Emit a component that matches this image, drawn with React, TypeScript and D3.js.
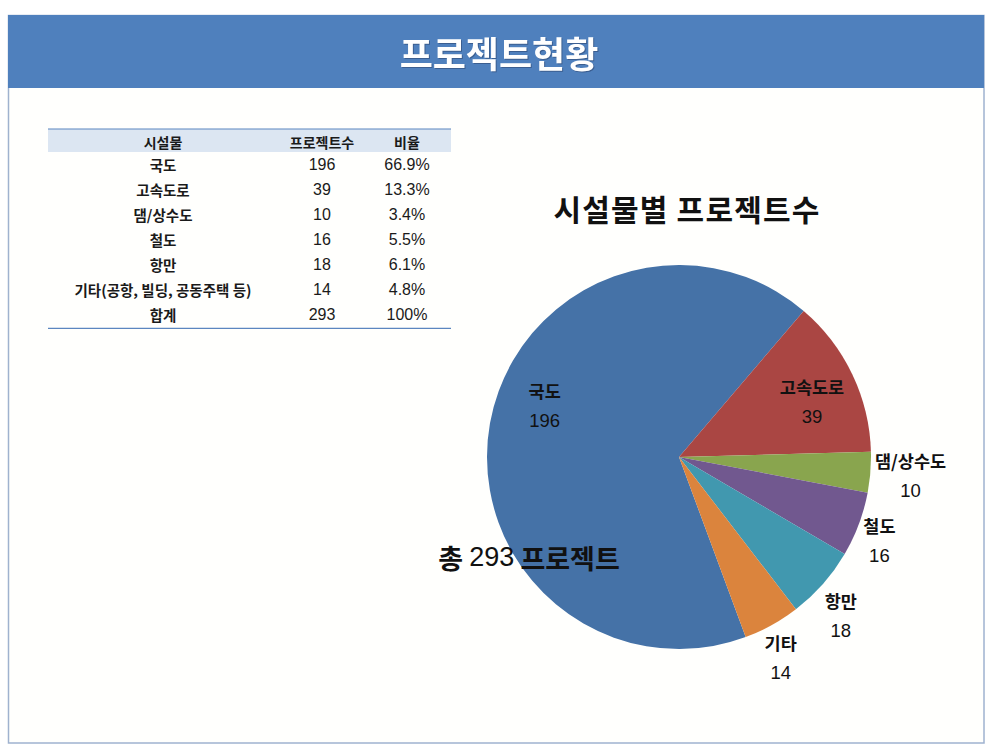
import React from "react";
import * as d3 from "d3";

const categories = ["국도", "고속도로", "댐/상수도", "철도", "항만", "기타"];
const tableNames = ["국도", "고속도로", "댐/상수도", "철도", "항만", "기타(공항, 빌딩, 공동주택 등)"];
const projectCounts = [196, 39, 10, 16, 18, 14];
const ratioLabels = ["66.9%", "13.3%", "3.4%", "5.5%", "6.1%", "4.8%"];
const totalCount = 293;
const totalRatio = "100%";
const tableHeaders = ["시설물", "프로젝트수", "비율"];
const colors = ["#4572A7", "#AA4643", "#89A54E", "#71588F", "#4198AF", "#DB843D"];

// label placement (relative to radius) and angle nudges in degrees
const labelRadius = [0.75, 0.75, 1.21, 1.13, 1.18, 1.17];
const labelAngleNudge = [11, 3, 0, 2, 3, 2];

const W = 1001;
const H = 755;
const KR = "'Noto Sans CJK KR', 'Noto Sans', sans-serif";
const LAT = "'Liberation Sans', Arial, sans-serif";

export default function App() {
  const cx = 679;
  const cy = 457;
  const R = 192;
  const startDeg = 40.5 - (projectCounts[0] / totalCount) * 360;
  const pie = d3
    .pie<number>()
    .sort(null)
    .value((d) => d)
    .startAngle((startDeg * Math.PI) / 180)
    .endAngle((startDeg * Math.PI) / 180 + 2 * Math.PI);
  const arcs = pie(projectCounts);
  const arcGen = d3.arc<d3.PieArcDatum<number>>().innerRadius(0).outerRadius(R);

  // table layout
  const tX0 = 48;
  const tX1 = 451;
  const tTop = 129;
  const headH = 23;
  const rowH = 24.9;
  const colX = [163, 322, 407];
  const rowY = (i: number) => tTop + headH + rowH * (i + 0.5) + 0.5;
  const nRows = tableNames.length + 1;
  const tBottom = tTop + headH + rowH * nRows + 2;

  return (
    <svg
      width={W}
      height={H}
      style={{ position: "absolute", left: 0, top: 0, background: "#ffffff" }}
    >
      {/* frame */}
      <rect x={8.5} y={15.5} width={975.5} height={727.5} fill="#fffffd" stroke="#9fb2cf" strokeWidth={1.5} />
      <rect x={8} y={15} width={976} height={73} fill="#4f80bd" />
      <text
        x={499}
        y={52}
        textAnchor="middle"
        dominantBaseline="central"
        fill="#ffffff"
        fontFamily={KR}
        fontWeight={700}
        fontSize={36}
        style={{ filter: "drop-shadow(1px 1px 0px rgba(40,60,100,0.5))" }}
      >
        프로젝트현황
      </text>

      {/* table */}
      <rect x={tX0} y={tTop} width={tX1 - tX0} height={headH} fill="#dce6f2" />
      <line x1={tX0} x2={tX1} y1={tTop} y2={tTop} stroke="#5b86c0" strokeWidth={1.2} />
      <line x1={tX0} x2={tX1} y1={tBottom} y2={tBottom} stroke="#5b86c0" strokeWidth={1.2} />
      {tableHeaders.map((h, j) => (
        <text
          key={h}
          x={colX[j]}
          y={tTop + headH / 2 + 1}
          textAnchor="middle"
          dominantBaseline="central"
          fontFamily={KR}
          fontWeight={700}
          fontSize={14}
          fill="#1a1a1a"
        >
          {h}
        </text>
      ))}
      {tableNames.map((n, i) => (
        <g key={n}>
          <text x={colX[0]} y={rowY(i)} textAnchor="middle" dominantBaseline="central" fontFamily={KR} fontWeight={700} fontSize={14.5} fill="#1a1a1a">
            {n}
          </text>
          <text x={colX[1]} y={rowY(i)} textAnchor="middle" dominantBaseline="central" fontFamily={LAT} fontSize={16} fill="#1a1a1a">
            {projectCounts[i]}
          </text>
          <text x={colX[2]} y={rowY(i)} textAnchor="middle" dominantBaseline="central" fontFamily={LAT} fontSize={16} fill="#1a1a1a">
            {ratioLabels[i]}
          </text>
        </g>
      ))}
      <g>
        <text x={colX[0]} y={rowY(tableNames.length)} textAnchor="middle" dominantBaseline="central" fontFamily={KR} fontWeight={700} fontSize={14.5} fill="#1a1a1a">
          합계
        </text>
        <text x={colX[1]} y={rowY(tableNames.length)} textAnchor="middle" dominantBaseline="central" fontFamily={LAT} fontSize={16} fill="#1a1a1a">
          {totalCount}
        </text>
        <text x={colX[2]} y={rowY(tableNames.length)} textAnchor="middle" dominantBaseline="central" fontFamily={LAT} fontSize={16} fill="#1a1a1a">
          {totalRatio}
        </text>
      </g>

      {/* pie title */}
      <text x={687} y={208} textAnchor="middle" dominantBaseline="central" fontFamily={KR} fontWeight={700} fontSize={30} letterSpacing={1.2} fill="#111111">
        시설물별 프로젝트수
      </text>

      {/* pie */}
      <g transform={`translate(${cx},${cy})`}>
        {arcs.map((a, i) => (
          <path key={categories[i]} d={arcGen(a) || ""} fill={colors[i]} />
        ))}
        {arcs.map((a, i) => {
          const mid = (a.startAngle + a.endAngle) / 2 + (labelAngleNudge[i] * Math.PI) / 180;
          const r = R * labelRadius[i];
          const x = Math.sin(mid) * r;
          const y = -Math.cos(mid) * r;
          return (
            <g key={"l" + i}>
              <text x={x} y={y - 15} textAnchor="middle" dominantBaseline="central" fontFamily={KR} fontWeight={700} fontSize={17.5} fill="#111111">
                {categories[i]}
              </text>
              <text x={x} y={y + 15} textAnchor="middle" dominantBaseline="central" fontFamily={LAT} fontSize={18.5} fill="#111111">
                {projectCounts[i]}
              </text>
            </g>
          );
        })}
      </g>

      {/* total label */}
      <text x={529} y={557} textAnchor="middle" dominantBaseline="central" fontFamily={KR} fontSize={27} fill="#111111">
        <tspan fontFamily={KR} fontWeight={700}>총 </tspan>
        <tspan fontFamily={LAT}>{totalCount}</tspan>
        <tspan fontFamily={KR} fontWeight={700}> 프로젝트</tspan>
      </text>
    </svg>
  );
}
